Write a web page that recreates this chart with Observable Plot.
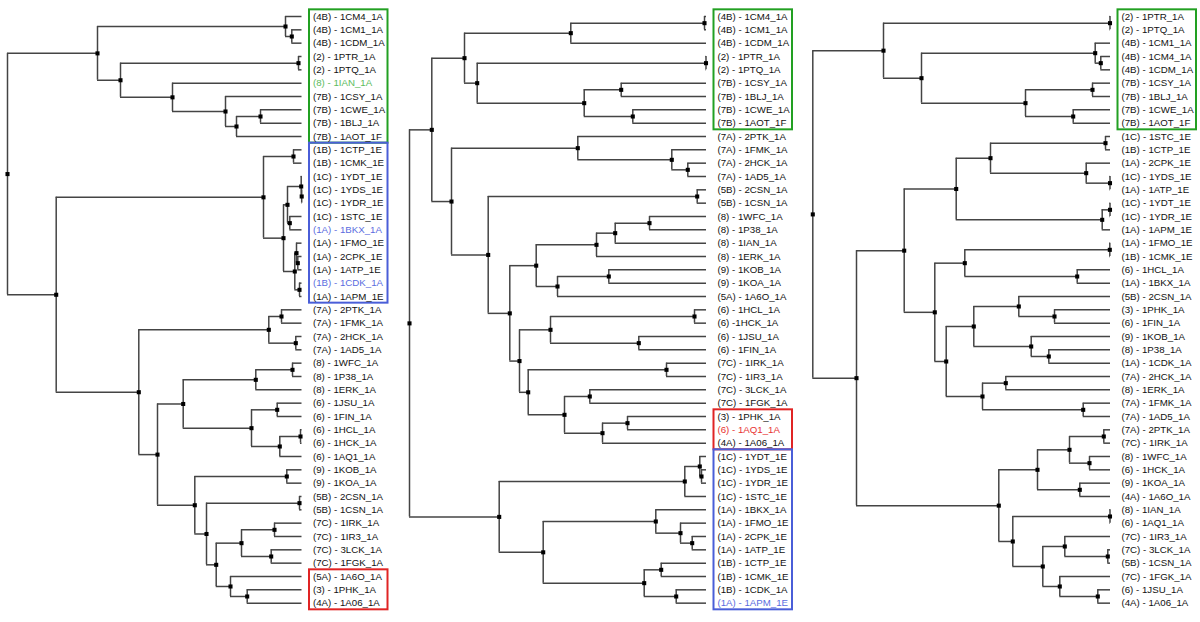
<!DOCTYPE html>
<html><head><meta charset="utf-8">
<script src="https://cdn.jsdelivr.net/npm/d3@7"></script>
<script src="https://cdn.jsdelivr.net/npm/@observablehq/plot@0.6"></script>
<style>
html,body{margin:0;padding:0;background:#fff;}
#wrap{position:relative;width:1200px;height:622px;overflow:hidden;background:#fff;}
#wrap svg{position:absolute;top:0;}
</style></head><body><div id="wrap"></div>
<script>
// ---------- Panel 1 ----------
const leaves1 = ["(4B) - 1CM4_1A","(4B) - 1CM1_1A","(4B) - 1CDM_1A","(2) - 1PTR_1A","(2) - 1PTQ_1A","(8) - 1IAN_1A","(7B) - 1CSY_1A","(7B) - 1CWE_1A","(7B) - 1BLJ_1A","(7B) - 1AOT_1F","(1B) - 1CTP_1E","(1B) - 1CMK_1E","(1C) - 1YDT_1E","(1C) - 1YDS_1E","(1C) - 1YDR_1E","(1C) - 1STC_1E","(1A) - 1BKX_1A","(1A) - 1FMO_1E","(1A) - 2CPK_1E","(1A) - 1ATP_1E","(1B) - 1CDK_1A","(1A) - 1APM_1E","(7A) - 2PTK_1A","(7A) - 1FMK_1A","(7A) - 2HCK_1A","(7A) - 1AD5_1A","(8) - 1WFC_1A","(8) - 1P38_1A","(8) - 1ERK_1A","(6) - 1JSU_1A","(6) - 1FIN_1A","(6) - 1HCL_1A","(6) - 1HCK_1A","(6) - 1AQ1_1A","(9) - 1KOB_1A","(9) - 1KOA_1A","(5B) - 2CSN_1A","(5B) - 1CSN_1A","(7C) - 1IRK_1A","(7C) - 1IR3_1A","(7C) - 3LCK_1A","(7C) - 1FGK_1A","(5A) - 1A6O_1A","(3) - 1PHK_1A","(4A) - 1A06_1A"];
// merges: [childA, childB, height]; ids 0..44 = leaves, 45.. = merges in order
const merges1 = [[1,2,1.02],[0,45,1.65],[3,4,0.35],[7,8,4.15],[48,9,6.55],[6,49,7.65],[5,50,12.95],[47,51,18.15],[46,52,20.45],
[10,11,0.85],[13,14,0.03],[12,55,0.08],[15,16,1.22],[56,57,1.45],[18,19,0.42],[17,59,0.55],[20,21,0.25],[60,61,0.72],[58,62,1.85],[54,63,3.85],
[22,23,2.05],[24,25,0.62],[65,66,3.32],[26,27,0.95],[68,28,4.62],[29,30,2.48],[31,32,0.15],[71,33,2.22],[70,72,5.05],[69,73,11.88],
[34,35,1.52],[36,37,0.25],[38,39,2.75],[40,41,3.08],[77,78,6.05],[43,44,5.48],[42,80,7.15],[79,81,8.58],[76,82,9.55],[75,83,10.72],
[74,84,14.45],[67,85,16.32],[64,86,24.58],[53,87,29.45]];
const boxes1 = [[0,9,"green"],[10,21,"blue"],[42,44,"red"]];
const colored1 = [[5,"green"],[16,"blue"],[20,"blue"]];

// ---------- Panel 2 ----------
const leaves2 = ["(4B) - 1CM4_1A","(4B) - 1CM1_1A","(4B) - 1CDM_1A","(2) - 1PTR_1A","(2) - 1PTQ_1A","(7B) - 1CSY_1A","(7B) - 1BLJ_1A","(7B) - 1CWE_1A","(7B) - 1AOT_1F","(7A) - 2PTK_1A","(7A) - 1FMK_1A","(7A) - 2HCK_1A","(7A) - 1AD5_1A","(5B) - 2CSN_1A","(5B) - 1CSN_1A","(8) - 1WFC_1A","(8) - 1P38_1A","(8) - 1IAN_1A","(8) - 1ERK_1A","(9) - 1KOB_1A","(9) - 1KOA_1A","(5A) - 1A6O_1A","(6) - 1HCL_1A","(6) -1HCK_1A","(6) - 1JSU_1A","(6) - 1FIN_1A","(7C) - 1IRK_1A","(7C) - 1IR3_1A","(7C) - 3LCK_1A","(7C) - 1FGK_1A","(3) - 1PHK_1A","(6) - 1AQ1_1A","(4A) - 1A06_1A","(1C) - 1YDT_1E","(1C) - 1YDS_1E","(1C) - 1YDR_1E","(1C) - 1STC_1E","(1A) - 1BKX_1A","(1A) - 1FMO_1E","(1A) - 2CPK_1E","(1A) - 1ATP_1E","(1B) - 1CTP_1E","(1B) - 1CMK_1E","(1B) - 1CDK_1A","(1A) - 1APM_1E"];
const merges2 = [[0,1,0.2],[45,2,13.57],[3,4,0.05],[5,6,8.53],[7,8,7.37],[48,49,12.23],[47,50,22.93],[46,51,24.2],
[11,12,1.87],[10,53,3.47],[9,54,12.87],[13,14,0.93],[15,16,5.7],[57,17,9.13],[58,18,11.0],[19,20,9.77],[60,21,14.9],[59,61,17.03],
[22,23,1.2],[24,25,6.77],[63,64,15.6],[26,27,4.0],[28,29,11.67],[30,31,7.9],[68,32,10.4],[67,69,14.2],[66,70,17.83],[65,71,18.7],
[62,72,19.67],[56,73,21.83],[55,74,25.5],[52,75,27.47],[34,35,0.5],[33,77,0.67],[78,36,2.17],[39,40,1.43],[38,80,2.6],[37,81,5.07],
[41,42,4.53],[43,44,3.03],[83,84,6.23],[82,85,16.33],[79,86,20.73],[76,87,29.7]];
const boxes2 = [[0,8,"green"],[30,32,"red"],[33,44,"blue"]];
const colored2 = [[31,"red"],[44,"blue"]];

// ---------- Panel 3 ----------
const leaves3 = ["(2) - 1PTR_1A","(2) - 1PTQ_1A","(4B) - 1CM1_1A","(4B) - 1CM4_1A","(4B) - 1CDM_1A","(7B) - 1CSY_1A","(7B) - 1BLJ_1A","(7B) - 1CWE_1A","(7B) - 1AOT_1F","(1C) - 1STC_1E","(1B) - 1CTP_1E","(1A) - 2CPK_1E","(1C) - 1YDS_1E","(1A) - 1ATP_1E","(1C) - 1YDT_1E","(1C) - 1YDR_1E","(1A) - 1APM_1E","(1A) - 1FMO_1E","(1B) - 1CMK_1E","(6) - 1HCL_1A","(1A) - 1BKX_1A","(5B) - 2CSN_1A","(3) - 1PHK_1A","(6) - 1FIN_1A","(9) - 1KOB_1A","(8) - 1P38_1A","(1A) - 1CDK_1A","(7A) - 2HCK_1A","(8) - 1ERK_1A","(7A) - 1FMK_1A","(7A) - 1AD5_1A","(7A) - 2PTK_1A","(7C) - 1IRK_1A","(8) - 1WFC_1A","(6) - 1HCK_1A","(9) - 1KOA_1A","(4A) - 1A6O_1A","(8) - 1IAN_1A","(6) - 1AQ1_1A","(7C) - 1IR3_1A","(7C) - 3LCK_1A","(5B) - 1CSN_1A","(7C) - 1FGK_1A","(6) - 1JSU_1A","(4A) - 1A06_1A"];
const merges3 = [[0,1,0.05],[3,4,0.97],[2,46,1.53],[5,6,1.8],[7,8,3.73],[48,49,8.5],[47,50,18.9],[45,51,22.7],
[9,10,0.5],[12,13,0.05],[11,54,2.43],[53,55,12.0],[14,15,0.05],[57,16,0.83],[56,58,15.43],[17,18,0.07],[19,20,3.33],[60,61,14.57],
[22,23,5.6],[21,63,9.17],[25,26,6.17],[24,65,7.93],[64,66,13.67],[27,28,10.47],[29,30,2.73],[68,69,12.8],[67,70,16.43],[62,71,17.57],
[59,72,20.63],[31,32,0.67],[33,34,2.1],[74,75,4.1],[35,36,3.07],[76,77,7.3],[37,38,0.05],[40,41,0.27],[39,80,4.57],[43,44,1.27],
[42,82,5.07],[81,83,6.77],[79,84,9.77],[78,85,11.17],[73,86,25.4],[52,87,29.77]];
const boxes3 = [[0,8,"green"]];
const colored3 = [];

// ---------- styles ----------
const boxColor = {green:"#22a022", blue:"#4a5ed8", red:"#e02424"};
const textColor = {green:"#5cbc5c", blue:"#5b6ce0", red:"#e83232"};
const lineColor = "#444";

function layout(leaves, merges, colored) {
  const n = leaves.length;
  const Y = leaves.map((_, i) => i), H = leaves.map(() => 0);
  const nodes = [], vlines = [], hlines = [];
  merges.forEach(([a, b, h], k) => {
    const id = n + k;
    Y[id] = (Y[a] + Y[b]) / 2; H[id] = h;
    vlines.push({x: h, y1: Y[a], y2: Y[b]});
    hlines.push({y: Y[a], x1: h, x2: H[a]}, {y: Y[b], x1: h, x2: H[b]});
    nodes.push({x: h, y: Y[id]});
  });
  const cmap = new Map(colored);
  const labels = leaves.map((t, i) => ({i, text: t, color: cmap.has(i) ? textColor[cmap.get(i)] : "#111"}));
  return {nodes, vlines, hlines, labels, rootH: merges[merges.length - 1][2]};
}

function panel(leaves, merges, boxes, colored, o) {
  const L = layout(leaves, merges, colored);
  const svg = Plot.plot({
    width: o.width, height: 622,
    marginLeft: o.ml, marginRight: o.width - o.leafX, marginTop: 16, marginBottom: 622 - 16 - 44 * 13.333,
    x: {domain: [L.rootH, 0], axis: null},
    y: {domain: [0, leaves.length - 1], reverse: true, axis: null},
    color: {type: "identity"},
    style: {fontFamily: "'Liberation Sans', Arial, sans-serif", fontSize: "9.7px", background: "transparent", overflow: "visible"},
    marks: [
      Plot.rect(boxes, {x1: () => 0, x2: () => 0, y1: d => d[0] - 0.5, y2: d => d[1] + 0.5,
        stroke: d => boxColor[d[2]], strokeWidth: 2, fill: "none", insetLeft: 7.5, insetRight: -86}),
      Plot.ruleY(L.hlines, {y: "y", x1: "x1", x2: "x2", stroke: lineColor, strokeWidth: 1.5}),
      Plot.ruleX(L.vlines, {x: "x", y1: "y1", y2: "y2", stroke: lineColor, strokeWidth: 1.5}),
      Plot.dot(L.nodes, {x: "x", y: "y", symbol: "square", r: 2.3, fill: "#000"}),
      Plot.text(L.labels, {x: () => 0, y: "i", text: "text", textAnchor: "start", dx: 11, fill: "color"})
    ]
  });
  svg.style.left = o.left + "px";
  return svg;
}

const wrap = document.getElementById("wrap");
wrap.appendChild(panel(leaves1, merges1, boxes1, colored1, {left: 0, width: 400, ml: 7, leafX: 301.5}));
wrap.appendChild(panel(leaves2, merges2, boxes2, colored2, {left: 402, width: 398, ml: 7, leafX: 304}));
wrap.appendChild(panel(leaves3, merges3, boxes3, colored3, {left: 805, width: 395, ml: 7.3, leafX: 305}));
</script></body></html>
